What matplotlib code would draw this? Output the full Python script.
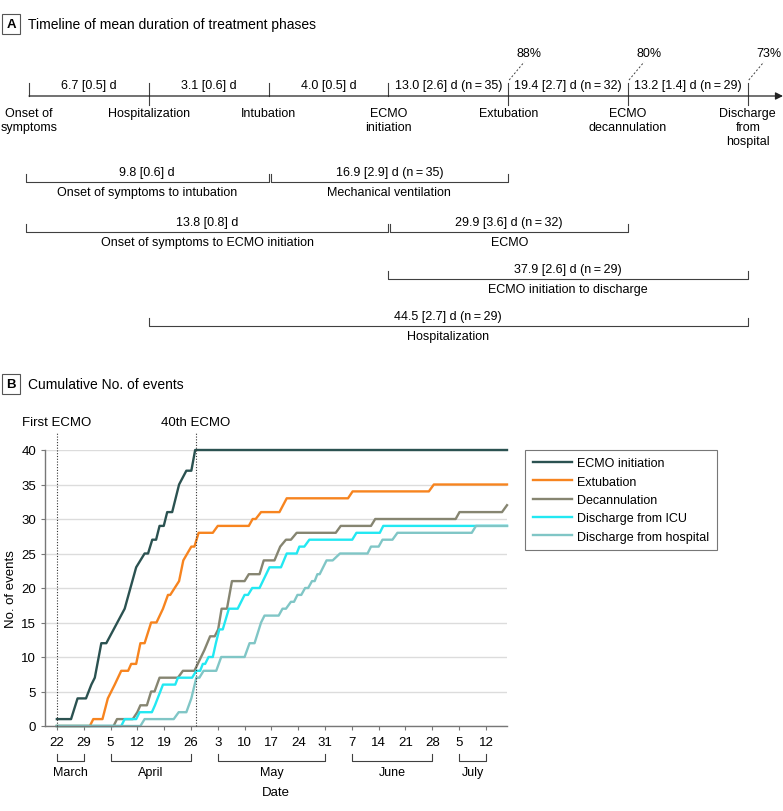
import matplotlib.pyplot as plt

plt.rcParams['font.family'] = ['Liberation Sans', 'DejaVu Sans']
plt.rcParams['font.size'] = 9

# ---- panel A: timeline ----
events = ['Onset of\nsymptoms', 'Hospitalization', 'Intubation', 'ECMO\ninitiation',
          'Extubation', 'ECMO\ndecannulation', 'Discharge\nfrom\nhospital']
segment_labels = ['6.7 [0.5] d', '3.1 [0.6] d', '4.0 [0.5] d',
                  '13.0 [2.6] d (n\u2009=\u200935)', '19.4 [2.7] d (n\u2009=\u200932)',
                  '13.2 [1.4] d (n\u2009=\u200929)']
percent_events = [4, 5, 6]
percent_labels = ['88%', '80%', '73%']

span_start = [0, 2, 0, 3, 3, 1]
span_end = [2, 4, 3, 5, 6, 6]
span_row = [0, 0, 1, 1, 2, 3]
span_values = ['9.8 [0.6] d', '16.9 [2.9] d (n\u2009=\u200935)', '13.8 [0.8] d',
               '29.9 [3.6] d (n\u2009=\u200932)', '37.9 [2.6] d (n\u2009=\u200929)',
               '44.5 [2.7] d (n\u2009=\u200929)']
span_names = ['Onset of symptoms to intubation', 'Mechanical ventilation',
              'Onset of symptoms to ECMO initiation', 'ECMO',
              'ECMO initiation to discharge', 'Hospitalization']

# ---- panel B: cumulative events (day 0 = March 22) ----
tick_days = [0, 7, 14, 21, 28, 35, 42, 49, 56, 63, 70, 77, 84, 91, 98, 105, 112]
tick_labels = ['22', '29', '5', '12', '19', '26', '3', '10', '17', '24', '31',
               '7', '14', '21', '28', '5', '12']
months = ['March', 'April', 'May', 'June', 'July']
month_start = [0, 14, 42, 77, 105]
month_end = [7, 35, 70, 98, 112]
first_ecmo_day = 0
fortieth_ecmo_day = 36.2

ecmo_days = [0, 3.7, 5.4, 7.6, 9.0, 9.9, 11.6, 12.9, 17.7, 19.2, 20.7, 22.9, 23.8, 24.9,
             25.9, 26.8, 27.9, 28.8, 30.1, 31.9, 33.8, 35.1, 36.1, 117.5]
ecmo_counts = [1, 1, 4, 4, 6, 7, 12, 12, 17, 20, 23, 25, 25, 27,
               27, 29, 29, 31, 31, 35, 37, 37, 40, 40]

extub_days = [0, 8.6, 9.5, 11.9, 13.3, 15.1, 16.8, 18.6, 19.4, 20.7, 21.8, 22.9, 24.6,
              26.0, 27.7, 29.0, 29.6, 31.9, 33.0, 35.1, 35.9, 37.0, 40.7, 42.0, 50.1,
              51.1, 51.9, 53.3, 58.1, 60.0, 76.0, 77.2, 97.1, 98.4, 117.5]
extub_counts = [0, 0, 1, 1, 4, 6, 8, 8, 9, 9, 12, 12, 15,
                15, 17, 19, 19, 21, 24, 26, 26, 28, 28, 29, 29,
                30, 30, 31, 31, 33, 33, 34, 34, 35, 35]

decann_days = [0, 14.8, 15.7, 19.8, 21.0, 21.8, 23.5, 24.6, 25.5, 26.8, 31.6, 32.9, 35.9,
               38.5, 40.0, 41.2, 42.1, 43.0, 44.4, 45.7, 49.0, 50.1, 52.9, 54.0, 56.8,
               58.3, 59.8, 61.1, 62.6, 72.8, 74.1, 82.0, 83.1, 104.1, 105.1, 116.2, 117.5]
decann_counts = [0, 0, 1, 1, 2, 3, 3, 5, 5, 7, 7, 8, 8,
                 11, 13, 13, 14, 17, 17, 21, 21, 22, 22, 24, 24,
                 26, 27, 27, 28, 28, 29, 29, 30, 30, 31, 31, 32]

icu_days = [0, 16.8, 17.7, 20.7, 21.6, 24.8, 25.6, 26.3, 27.7, 30.9, 31.6, 35.3, 36.4,
            37.4, 38.1, 38.7, 39.6, 40.7, 41.5, 42.4, 43.3, 44.9, 47.2, 49.0, 49.9,
            51.0, 52.9, 55.5, 58.5, 60.0, 62.6, 63.3, 64.6, 65.9, 77.1, 78.2, 84.3,
            85.2, 117.5]
icu_counts = [0, 0, 1, 1, 2, 2, 3, 4, 6, 6, 7, 7, 8,
              8, 9, 9, 10, 10, 12, 14, 14, 17, 17, 19, 19,
              20, 20, 23, 23, 25, 25, 26, 26, 27, 27, 28, 28,
              29, 29]

hosp_days = [0, 21.8, 22.9, 30.5, 31.8, 33.8, 35.1, 36.4, 37.2, 38.3, 41.6, 42.9, 49.0,
             50.3, 51.6, 53.3, 54.2, 57.9, 58.9, 59.8, 61.1, 61.9, 62.8, 63.8, 64.8,
             65.6, 66.6, 67.3, 68.0, 68.6, 70.4, 72.0, 73.9, 81.1, 82.0, 84.0, 85.0,
             87.6, 88.9, 108.3, 109.4, 117.5]
hosp_counts = [0, 0, 1, 1, 2, 2, 4, 7, 7, 8, 8, 10, 10,
               12, 12, 15, 16, 16, 17, 17, 18, 18, 19, 19, 20,
               20, 21, 21, 22, 22, 24, 24, 25, 25, 26, 26, 27,
               27, 28, 28, 29, 29]

series = [
    ('ECMO initiation', ecmo_days, ecmo_counts, '#2b5251'),
    ('Extubation', extub_days, extub_counts, '#f7841f'),
    ('Decannulation', decann_days, decann_counts, '#868571'),
    ('Discharge from ICU', icu_days, icu_counts, '#22e8f2'),
    ('Discharge from hospital', hosp_days, hosp_counts, '#80c6c6'),
]

W, H = 783, 812
fig = plt.figure(figsize=(W / 100, H / 100), dpi=100)

# overlay axes in pixel coordinates for the diagram parts
ov = fig.add_axes([0, 0, 1, 1])
ov.set_xlim(0, W)
ov.set_ylim(H, 0)
ov.axis('off')

line_col = '#404040'


def panel_title(y, letter, text):
    ov.text(11, y, letter, ha='center', va='center', fontsize=9.5, fontweight='bold',
            bbox=dict(boxstyle='square,pad=0.3', facecolor='white', edgecolor='#555555', lw=0.8))
    ov.text(28, y, text, ha='left', va='center', fontsize=10)


panel_title(25, 'A', 'Timeline of mean duration of treatment phases')

# timeline axis
y_tl = 97
ev_x = [29 + 119.8 * i for i in range(len(events))]
ov.annotate('', xy=(783, y_tl), xytext=(ev_x[0], y_tl),
            arrowprops=dict(arrowstyle='-|>', lw=0.9, color='#222222', mutation_scale=11,
                            shrinkA=0, shrinkB=0))
below = [1, 4, 5, 6]
for i, (x, name) in enumerate(zip(ev_x, events)):
    y_low = y_tl + 9 if i in below else y_tl
    ov.plot([x, x], [y_tl - 13, y_low], color=line_col, lw=0.8)
    ov.text(x, y_tl + 11, name, ha='center', va='top', linespacing=1.25)

for i, lab in enumerate(segment_labels):
    ov.text((ev_x[i] + ev_x[i + 1]) / 2, y_tl - 11, lab, ha='center', va='center')

for i, lab in zip(percent_events, percent_labels):
    x = ev_x[i]
    ov.plot([x + 1, x + 16], [y_tl - 16, y_tl - 34], color=line_col, lw=0.7, ls=(0, (2, 2)))
    ov.text(x + 21, y_tl - 43, lab, ha='center', va='center')

# brackets
row_y = [183, 233, 280, 327]
ends = set()
for s, e, r, val, name in zip(span_start, span_end, span_row, span_values, span_names):
    x0 = ev_x[s] - 3 if s == 0 else ev_x[s]
    if (r, s) in ends:
        x0 += 2
    x1 = ev_x[e]
    ends.add((r, e))
    y = row_y[r]
    ov.plot([x0, x0, x1, x1], [y - 8, y, y, y - 8], color=line_col, lw=0.8)
    ov.text((x0 + x1) / 2, y - 10, val, ha='center', va='center')
    ov.text((x0 + x1) / 2, y + 10, name, ha='center', va='center')

panel_title(385, 'B', 'Cumulative No. of events')

# ---- panel B plot ----
ax = fig.add_axes([45 / W, 1 - 727 / H, 462 / W, 276 / H])
ax.set_zorder(2)
ax.patch.set_alpha(0)
for name, d, c, col in series:
    ax.plot(d, c, color=col, lw=1.7, label=name, solid_joinstyle='round', clip_on=False)

ax.set_xlim(-3.1, 117.5)
ax.set_ylim(0, 40)
ax.set_yticks(range(0, 41, 5))
ax.set_xticks(tick_days)
ax.set_xticklabels(tick_labels)
ax.tick_params(axis='both', labelsize=9.5, length=3, width=0.8, color='#777777')
ax.tick_params(axis='x', pad=4)
ax.grid(axis='y', color='#dcdcdc', lw=1)
ax.set_axisbelow(True)
for side in ['top', 'right']:
    ax.spines[side].set_visible(False)
for side in ['left', 'bottom']:
    ax.spines[side].set_color('#777777')
    ax.spines[side].set_linewidth(1)
ax.set_ylabel('No. of events', fontsize=9.5, labelpad=3)

for xd, lab in [(first_ecmo_day, 'First ECMO'), (fortieth_ecmo_day, '40th ECMO')]:
    ax.axvline(xd, ymin=0, ymax=1.065, color='#333333', lw=0.8, ls=(0, (1, 1.5)),
               clip_on=False, zorder=3)
    ax.text(xd, 1.1, lab, transform=ax.get_xaxis_transform(), ha='center', va='center',
            fontsize=9.5)

tr = ax.get_xaxis_transform()
for m, s, e in zip(months, month_start, month_end):
    ax.plot([s, s, e, e], [-0.1, -0.127, -0.127, -0.1], transform=tr,
            color=line_col, lw=0.8, clip_on=False)
    ax.text((s + e) / 2, -0.168, m, transform=tr, ha='center', va='center', fontsize=9)
ax.text(0.5, -0.239, 'Date', transform=ax.transAxes, ha='center', va='center', fontsize=9.5)

leg = ax.legend(loc='upper left', bbox_to_anchor=(1.04, 1.0), borderaxespad=0,
                frameon=True, fancybox=False, edgecolor='#555555', fontsize=9,
                handlelength=3.1, handletextpad=0.45, labelspacing=0.5, borderpad=0.6)
leg.get_frame().set_linewidth(0.8)

fig.savefig('out.png', dpi=100)
